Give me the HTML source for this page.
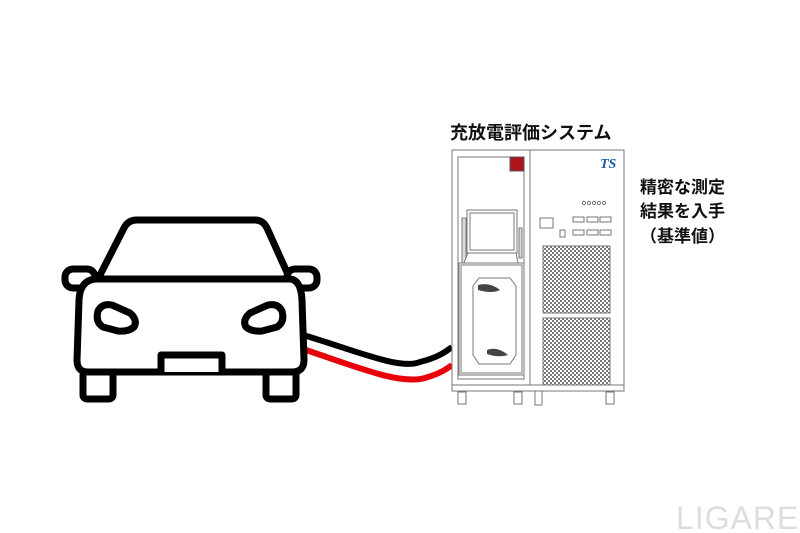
<!DOCTYPE html>
<html><head><meta charset="utf-8"><style>
html,body{margin:0;padding:0;background:#fff;width:800px;height:533px;overflow:hidden}
svg{display:block}
</style></head><body>
<svg width="800" height="533" viewBox="0 0 800 533" xmlns="http://www.w3.org/2000/svg">
<defs>
<pattern id="mesh" width="4" height="4" patternUnits="userSpaceOnUse">
<rect width="4" height="4" fill="#fff"/>
<rect width="2" height="2" fill="#777"/><rect x="2" y="2" width="2" height="2" fill="#777"/>
</pattern>
</defs>
<path d="M300 334 C360 352 400 370 420 362 C440 357 448 350 452 347" fill="none" stroke="#000" stroke-width="6"/>
<path d="M300 348 C360 368 400 385 425 378 C442 373 448 368 452 365" fill="none" stroke="#e8000b" stroke-width="6"/>
<g fill="#fff" stroke="#000" stroke-width="7" stroke-linejoin="round" stroke-linecap="round">
<path d="M98 279 L124 228 Q128 220 137 220 L255 220 Q263 220 267 228 L290 279"/>
<rect x="65" y="269" width="30" height="19" rx="8"/>
<rect x="287" y="269" width="30" height="19" rx="8"/>
<rect x="83" y="371" width="30" height="28" rx="4"/>
<rect x="266" y="371" width="30" height="28" rx="4"/>
<path d="M96 279 L290 279 Q301 280 302 300 L304 360 Q304 372 292 372 L88 372 Q77 372 77 360 L79 300 Q80 280 96 279 Z"/>
<path d="M161 372 L161 355 L222 355 L222 372"/>
<path d="M98 311 Q102 303 112 305 L130 313 Q138 320 134 327 Q128 332 118 331 L103 327 Q95 322 98 311 Z"/>
<path d="M282 311 Q278 303 268 305 L250 313 Q242 320 246 327 Q252 332 262 331 L277 327 Q285 322 282 311 Z"/>
</g>
<g fill="#fff" stroke="#777" stroke-width="1">
<rect x="452" y="150" width="78" height="235"/>
<rect x="458" y="157" width="66" height="222"/>
<rect x="530" y="150" width="94" height="235"/>
<rect x="510" y="157" width="14" height="14" fill="#b0141c" stroke="#555"/>
<rect x="462" y="218" width="4" height="46" fill="#ddd"/>
<rect x="519" y="228" width="3" height="30" fill="#ddd"/>
<rect x="467" y="210" width="50" height="43"/>
<rect x="470" y="213" width="44" height="37"/>
<path d="M468 253 L516 253 L518 263 L464 263 Z"/>
<rect x="459" y="263" width="65" height="112"/>
<rect x="461" y="265" width="61" height="108"/>
<path d="M479 278 L510 278 L516 286 L516 355 L510 364 L479 364 L473 355 L473 286 Z"/>
<rect x="540" y="218" width="13" height="10"/>
<rect x="560" y="230" width="5" height="7"/>
<rect x="573" y="217" width="11" height="5"/><rect x="587" y="217" width="11" height="5"/><rect x="600" y="217" width="11" height="5"/>
<rect x="573" y="230" width="11" height="5"/><rect x="587" y="230" width="11" height="5"/><rect x="600" y="230" width="11" height="5"/>
<circle cx="584" cy="203" r="1.6"/><circle cx="589" cy="203" r="1.6"/><circle cx="594" cy="203" r="1.6"/><circle cx="599" cy="203" r="1.6"/><circle cx="604" cy="203" r="1.6"/>
<rect x="543" y="246" width="67" height="67" fill="url(#mesh)"/>
<rect x="543" y="318" width="67" height="67" fill="url(#mesh)"/>
<rect x="458" y="392" width="8" height="12"/><rect x="514" y="392" width="8" height="12"/>
<rect x="535" y="391" width="7" height="14"/><rect x="606" y="392" width="8" height="12"/>
<rect x="452" y="385" width="172" height="6"/>
</g>
<path d="M478 285 Q490 282 500 290 Q492 294 478 290 Z" fill="#444"/>
<path d="M487 350 Q497 346 508 355 Q498 358 487 354 Z" fill="#444"/>
<text x="600" y="168" font-family="Liberation Serif, serif" font-size="14" font-weight="bold" font-style="italic" fill="#1a5aa8">TS</text>
<g font-family="'Liberation Sans','Noto Sans CJK JP',sans-serif" font-weight="bold" fill="#111">
<text x="450" y="139" font-size="18">充放電評価システム</text>
<text x="640" y="193" font-size="17">精密な測定</text>
<text x="640" y="217" font-size="17">結果を入手</text>
<text x="640" y="242" font-size="17">（基準値）</text>
</g>
<text x="676" y="529" font-family="Liberation Sans, sans-serif" font-size="32" letter-spacing="1" fill="#ddd">LIGARE</text>
</svg>
</body></html>
